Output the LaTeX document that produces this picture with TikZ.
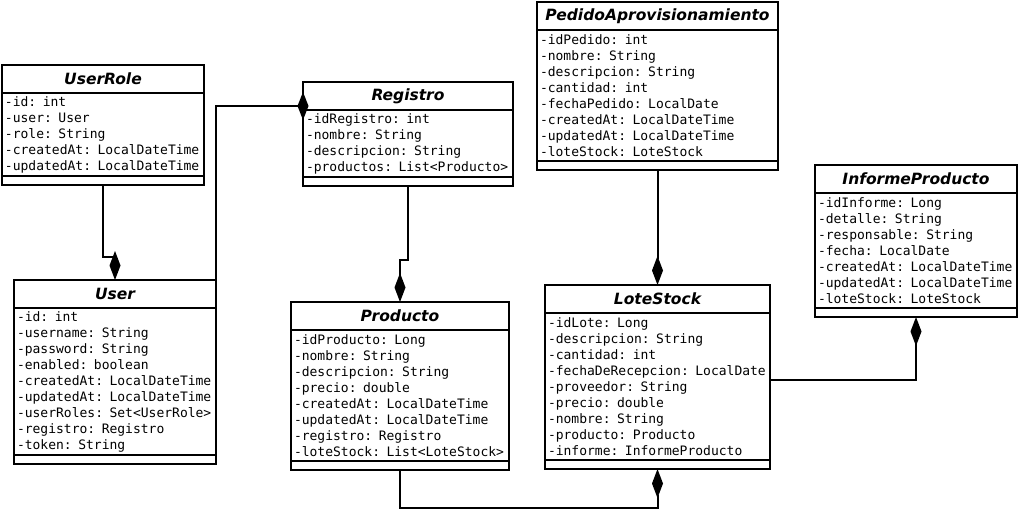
\documentclass[tikz,border=0pt]{standalone}
\usepackage{fontspec}
\setmainfont{DejaVu Sans}
\setmonofont{DejaVu Sans Mono}
\usetikzlibrary{arrows.meta}

\tikzset{
  ctitle/.style={draw, line width=2pt, outer sep=0pt, minimum height=28, inner sep=0pt, anchor=north west,
    font=\fontsize{15.5}{18}\selectfont\bfseries\itshape},
  cattr/.style={draw, line width=2pt, outer sep=0pt, anchor=north, inner xsep=3pt, inner ysep=0pt, align=left,
    font=\fontsize{13}{16}\selectfont\ttfamily},
  cops/.style={draw, line width=2pt, outer sep=0pt, minimum height=9, inner sep=0pt, anchor=north},
  comp/.style={line width=2pt, -{Diamond[length=29pt,width=11pt]}}
}

\begin{document}
\begin{tikzpicture}[x=1pt,y=-1pt]
    \useasboundingbox (0,0) rectangle (1019,511);
    % UserRole
    \node[ctitle, minimum width=202] (urole) at (2,65) {UserRole};
    \node[cattr, text width=196, minimum height=83] (uroleattr) at (urole.south) {-id: int\\-user: User\\-role: String\\-createdAt: LocalDateTime\\-updatedAt: LocalDateTime};
    \node[cops, minimum width=202] (uroleops) at (uroleattr.south) {};
    % User
    \node[ctitle, minimum width=202] (user) at (14,280) {User};
    \node[cattr, text width=196, minimum height=147] (userattr) at (user.south) {-id: int\\-username: String\\-password: String\\-enabled: boolean\\-createdAt: LocalDateTime\\-updatedAt: LocalDateTime\\-userRoles: Set<UserRole>\\-registro: Registro\\-token: String};
    \node[cops, minimum width=202] (userops) at (userattr.south) {};
    % Registro
    \node[ctitle, minimum width=210] (reg) at (303,82) {Registro};
    \node[cattr, text width=204, minimum height=67] (regattr) at (reg.south) {-idRegistro: int\\-nombre: String\\-descripcion: String\\-productos: List<Producto>};
    \node[cops, minimum width=210] (regops) at (regattr.south) {};
    % Producto
    \node[ctitle, minimum width=218] (prod) at (291,302) {Producto};
    \node[cattr, text width=212, minimum height=131] (prodattr) at (prod.south) {-idProducto: Long\\-nombre: String\\-descripcion: String\\-precio: double\\-createdAt: LocalDateTime\\-updatedAt: LocalDateTime\\-registro: Registro\\-loteStock: List<LoteStock>};
    \node[cops, minimum width=218] (prodops) at (prodattr.south) {};
    % PedidoAprovisionamiento
    \node[ctitle, minimum width=241] (ped) at (537,2) {PedidoAprovisionamiento};
    \node[cattr, text width=235, minimum height=131] (pedattr) at (ped.south) {-idPedido: int\\-nombre: String\\-descripcion: String\\-cantidad: int\\-fechaPedido: LocalDate\\-createdAt: LocalDateTime\\-updatedAt: LocalDateTime\\-loteStock: LoteStock};
    \node[cops, minimum width=241] (pedops) at (pedattr.south) {};
    % LoteStock
    \node[ctitle, minimum width=225] (lote) at (545,285) {LoteStock};
    \node[cattr, text width=219, minimum height=147] (loteattr) at (lote.south) {-idLote: Long\\-descripcion: String\\-cantidad: int\\-fechaDeRecepcion: LocalDate\\-proveedor: String\\-precio: double\\-nombre: String\\-producto: Producto\\-informe: InformeProducto};
    \node[cops, minimum width=225] (loteops) at (loteattr.south) {};
    % InformeProducto
    \node[ctitle, minimum width=202] (inf) at (815,165) {InformeProducto};
    \node[cattr, text width=196, minimum height=115] (infattr) at (inf.south) {-idInforme: Long\\-detalle: String\\-responsable: String\\-fecha: LocalDate\\-createdAt: LocalDateTime\\-updatedAt: LocalDateTime\\-loteStock: LoteStock};
    \node[cops, minimum width=202] (infops) at (infattr.south) {};
    % connectors
    \coordinate (regin) at ([yshift=4pt]reg.south west);
    \coordinate (loteout) at ([yshift=6.5pt]loteattr.east);
    \draw[comp] (uroleops.south) -- ++(0,72) -| (user.north);
    \draw[line width=2pt] (user.north east) |- (regin);
    \fill (regin) +(0,-14) -- +(5.5,0) -- +(0,14) -- +(-5.5,0) -- cycle;
    \draw[comp] (regops.south) -- ++(0,74) -| (prod.north);
    \draw[comp] (pedops.south) -- (lote.north);
    \draw[comp] (loteout) -| (infops.south);
    \draw[comp] (prodops.south) -- ++(0,38) -| (loteops.south);
\end{tikzpicture}
\end{document}
